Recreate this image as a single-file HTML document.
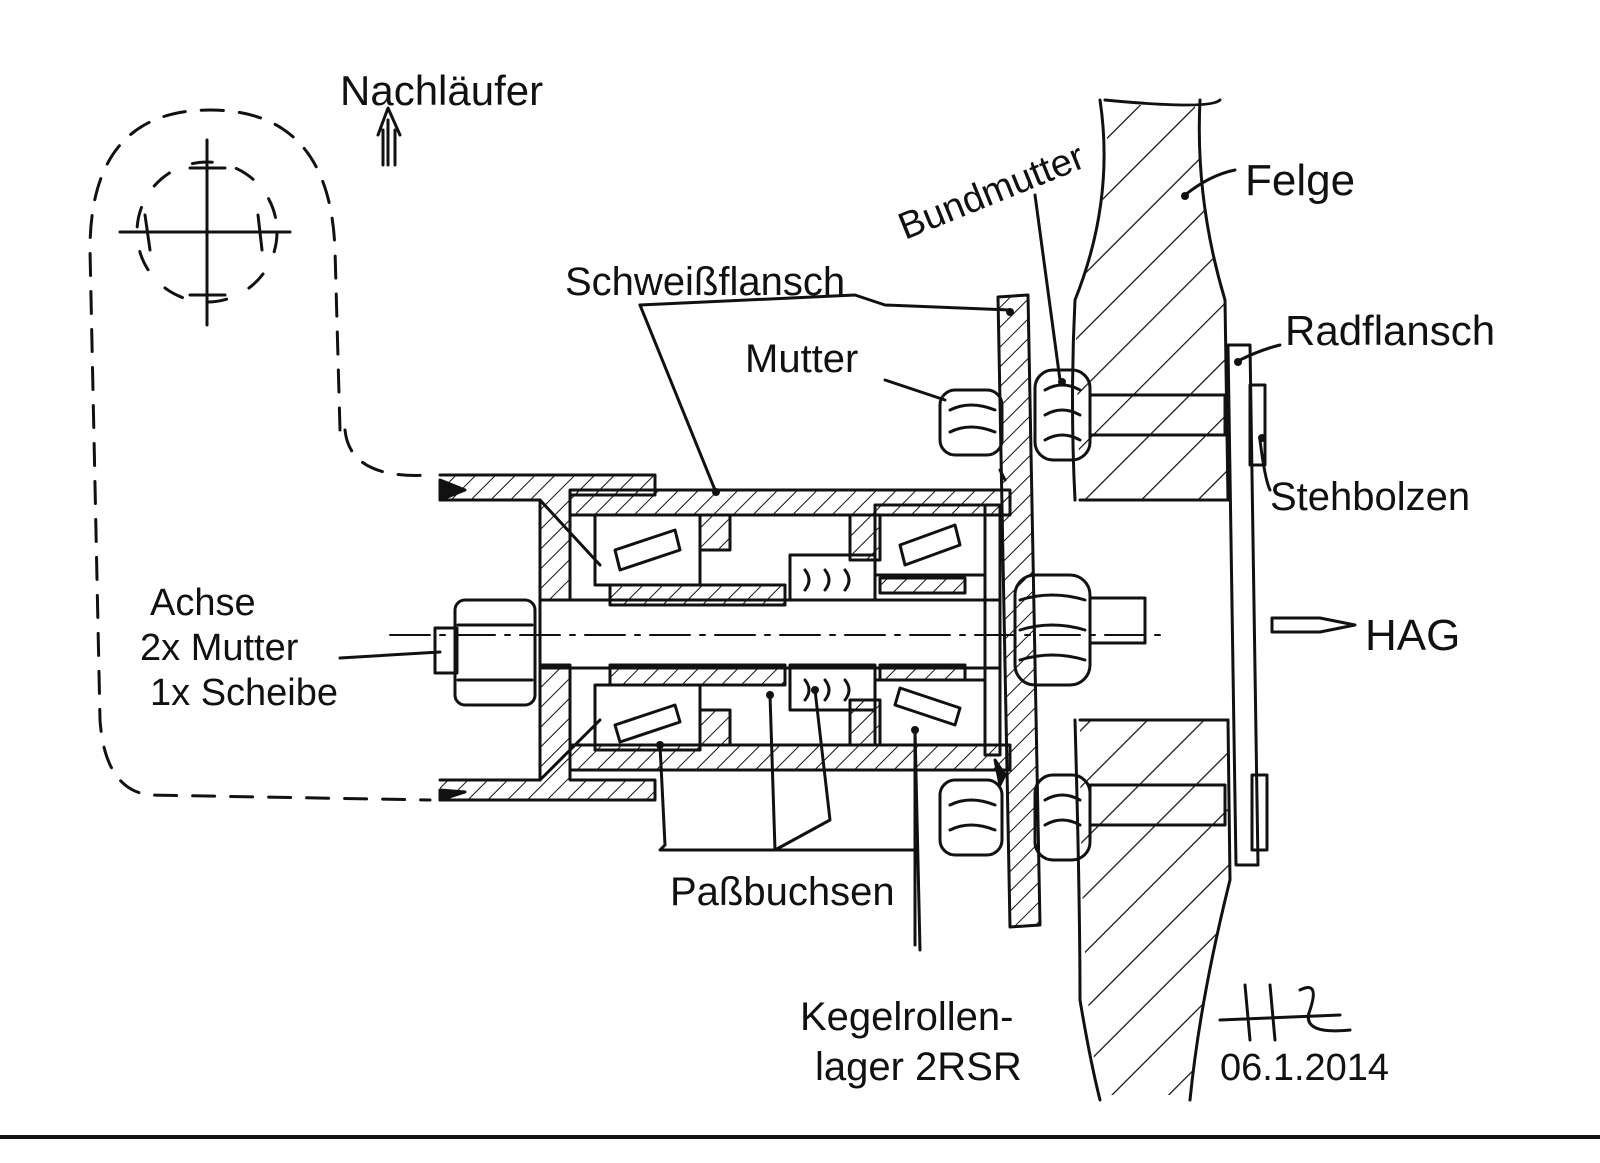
<!DOCTYPE html>
<html><head><meta charset="utf-8"><style>
html,body{margin:0;padding:0;background:#fff;}
svg{display:block}
text{font-family:"Liberation Sans",sans-serif;fill:#111;font-size:40px;}
</style></head><body>
<svg width="1600" height="1163" viewBox="0 0 1600 1163" xmlns="http://www.w3.org/2000/svg">
<defs>
<pattern id="h" width="14" height="14" patternUnits="userSpaceOnUse" patternTransform="rotate(45)">
<line x1="0" y1="0" x2="0" y2="14" stroke="#111" stroke-width="2"/></pattern>
<pattern id="h2" width="40" height="40" patternUnits="userSpaceOnUse" patternTransform="rotate(45)">
<line x1="0" y1="0" x2="0" y2="40" stroke="#111" stroke-width="2.5"/></pattern>
</defs>
<rect width="1600" height="1163" fill="#fff"/>
<g fill="none" stroke="#111" stroke-width="3" stroke-linecap="round" stroke-linejoin="round">
<path d="M340 430 L335 250 Q330 110 210 110 Q90 110 90 250 L100 720 Q105 790 150 795 L430 800" stroke-dasharray="22 16"/>
<path d="M345 430 Q350 480 430 475" stroke-dasharray="22 16"/>
<line x1="120" y1="232" x2="290" y2="232"/><line x1="207" y1="140" x2="207" y2="325"/>
<circle cx="207" cy="232" r="70" stroke-dasharray="20 25"/>
<line x1="145" y1="215" x2="150" y2="250"/><line x1="258" y1="215" x2="262" y2="250"/>
<line x1="190" y1="168" x2="225" y2="168"/><line x1="190" y1="295" x2="225" y2="295"/>
<path d="M388 165 L388 120 M383 165 L383 130 M395 165 L395 130 M378 135 L388 108 L400 135"/>
<path d="M1100 100 Q1115 200 1075 300 Q1070 400 1075 500 M1075 720 Q1080 900 1080 1000 Q1090 1060 1100 1100" />
<path d="M1200 100 Q1195 200 1225 300 L1228 500 M1228 720 L1230 880 Q1200 1000 1190 1100"/>
<path d="M1105 100 Q1210 110 1220 100"/>
<path d="M1075 300 L1225 300 L1228 500 L1080 500 Z" fill="url(#h2)" stroke="none"/>
<path d="M1105 105 L1195 105 Q1200 200 1225 300 L1075 300 Q1115 200 1105 105Z" fill="url(#h2)" stroke="none"/>
<path d="M1080 720 L1228 720 L1230 880 Q1200 1000 1190 1095 L1100 1095 Q1080 1000 1080 720Z" fill="url(#h2)" stroke="none"/>
<line x1="1080" y1="500" x2="1228" y2="500"/><line x1="1080" y1="720" x2="1228" y2="720"/>
<rect x="1090" y="395" width="135" height="40"/><rect x="1090" y="785" width="135" height="40"/>
<path d="M1228 345 L1250 345 L1258 865 L1236 865 Z"/>
<rect x="1250" y="385" width="15" height="80"/><rect x="1252" y="775" width="15" height="75"/>
<rect x="1035" y="370" width="55" height="90" rx="18"/><path d="M1045 390 Q1062 380 1080 390 M1045 415 Q1062 405 1080 415 M1045 440 Q1062 430 1080 440"/>
<rect x="1035" y="775" width="55" height="85" rx="18"/><path d="M1045 800 Q1062 790 1080 800 M1045 825 Q1062 815 1080 825"/>
<path d="M998 297 L1028 295 L1040 925 L1010 927 Z" fill="url(#h)"/>
<rect x="940" y="390" width="62" height="65" rx="15"/><path d="M950 410 Q970 400 995 410 M950 432 Q970 422 995 432"/>
<rect x="940" y="780" width="62" height="75" rx="15"/><path d="M950 805 Q970 795 995 805 M950 830 Q970 820 995 830"/>
<path d="M440 475 L655 475 L655 495 L570 495 L570 600 L540 600 L540 500 L440 500" fill="url(#h)"/>
<path d="M440 800 L655 800 L655 780 L570 780 L570 665 L540 665 L540 780 L440 780" fill="url(#h)"/>
<path d="M540 500 L540 780 M540 500 L600 565 M540 780 L600 720"/>
<rect x="570" y="490" width="440" height="25" fill="url(#h)"/>
<rect x="570" y="745" width="440" height="25" fill="url(#h)"/>
<rect x="700" y="515" width="30" height="35" fill="url(#h)"/><rect x="700" y="710" width="30" height="35" fill="url(#h)"/>
<rect x="850" y="515" width="30" height="45" fill="url(#h)"/><rect x="850" y="700" width="30" height="45" fill="url(#h)"/>
<rect x="595" y="515" width="105" height="70"/><rect x="875" y="505" width="110" height="70"/>
<rect x="595" y="685" width="105" height="65"/><rect x="875" y="680" width="110" height="65"/>
<path d="M615 550 L675 530 L680 550 L620 570Z M900 545 L955 525 L960 545 L905 565Z M615 725 L675 705 L680 722 L620 742Z M895 705 L955 725 L960 708 L900 688Z"/>
<rect x="610" y="585" width="175" height="20" fill="url(#h)"/><rect x="610" y="665" width="175" height="20" fill="url(#h)"/>
<rect x="790" y="555" width="85" height="45"/><rect x="790" y="665" width="85" height="45"/>
<path d="M805 570 q8 10 0 20 M825 570 q8 10 0 20 M845 570 q8 10 0 20 M805 680 q8 10 0 20 M825 680 q8 10 0 20 M845 680 q8 10 0 20"/>
<rect x="880" y="578" width="85" height="15" fill="url(#h)"/><rect x="880" y="665" width="85" height="15" fill="url(#h)"/>
<line x1="540" y1="600" x2="1000" y2="600"/><line x1="540" y1="668" x2="1000" y2="668"/>
<rect x="985" y="505" width="15" height="250"/>
<rect x="1090" y="598" width="55" height="45"/>
<line x1="390" y1="635" x2="1160" y2="635" stroke-dasharray="40 10 5 10" stroke-width="2"/>
<rect x="455" y="600" width="80" height="105" rx="10"/><rect x="435" y="628" width="22" height="45"/>
<path d="M458 625 L532 625 M458 680 L532 680"/>
<rect x="1015" y="575" width="75" height="110" rx="20"/><path d="M1020 600 Q1052 590 1085 600 M1020 630 Q1052 620 1085 630 M1020 660 Q1052 650 1085 660"/>
<path d="M1272 618 L1320 618 L1355 625 L1320 632 L1272 632Z"/>
<path d="M640 305 L855 295 L885 305 L1010 310"/>
<path d="M640 305 L715 490"/>
<path d="M885 380 L945 400"/>
<path d="M1035 195 L1060 380"/>
<path d="M1185 195 Q1210 175 1235 170"/>
<path d="M1240 360 Q1260 350 1280 345"/>
<path d="M1260 440 Q1265 480 1270 490"/>
<path d="M340 658 L440 652"/>
<path d="M660 745 L665 845 L660 850 L915 850 L915 945 M915 945 L915 730"/>
<path d="M770 695 L775 850 L830 820 L815 690"/>
<path d="M915 730 L920 950"/>
<path d="M995 760 L1005 775 L1000 785Z M1000 470 L1005 480Z" fill="#111"/>
<path d="M440 480 L465 490 L440 500Z M440 790 L465 792 L440 800Z" fill="#111"/>
<path d="M1245 985 L1250 1040 M1270 985 L1275 1040 M1220 1020 L1340 1015 M1300 990 Q1320 980 1310 1010 Q1300 1035 1350 1030"/>
<line x1="0" y1="1137" x2="1600" y2="1137" stroke-width="4"/>
</g>
<g fill="#111">
<circle cx="716" cy="492" r="4"/><circle cx="1010" cy="312" r="4"/><circle cx="1062" cy="382" r="4"/>
<circle cx="1185" cy="196" r="4"/><circle cx="1238" cy="362" r="4"/><circle cx="1262" cy="438" r="4"/>
<circle cx="660" cy="745" r="4"/><circle cx="915" cy="730" r="4"/><circle cx="770" cy="695" r="4"/><circle cx="815" cy="690" r="4"/>
</g>
<text x="340" y="105" style="font-size:42px">Nachläufer</text>
<text x="565" y="295" style="font-size:40px">Schweißflansch</text>
<text x="745" y="372" style="font-size:40px">Mutter</text>
<text x="905" y="240" style="font-size:38px" transform="rotate(-22 905 240)">Bundmutter</text>
<text x="1245" y="195" style="font-size:44px">Felge</text>
<text x="1285" y="345" style="font-size:42px">Radflansch</text>
<text x="1270" y="510" style="font-size:40px">Stehbolzen</text>
<text x="1365" y="650" style="font-size:44px">HAG</text>
<text x="150" y="615" style="font-size:38px">Achse</text>
<text x="140" y="660" style="font-size:38px">2x Mutter</text>
<text x="150" y="705" style="font-size:38px">1x Scheibe</text>
<text x="670" y="905" style="font-size:40px">Paßbuchsen</text>
<text x="800" y="1030" style="font-size:40px">Kegelrollen-</text>
<text x="815" y="1080" style="font-size:40px">lager 2RSR</text>
<text x="1220" y="1080" style="font-size:38px">06.1.2014</text>
</svg>
</body></html>
